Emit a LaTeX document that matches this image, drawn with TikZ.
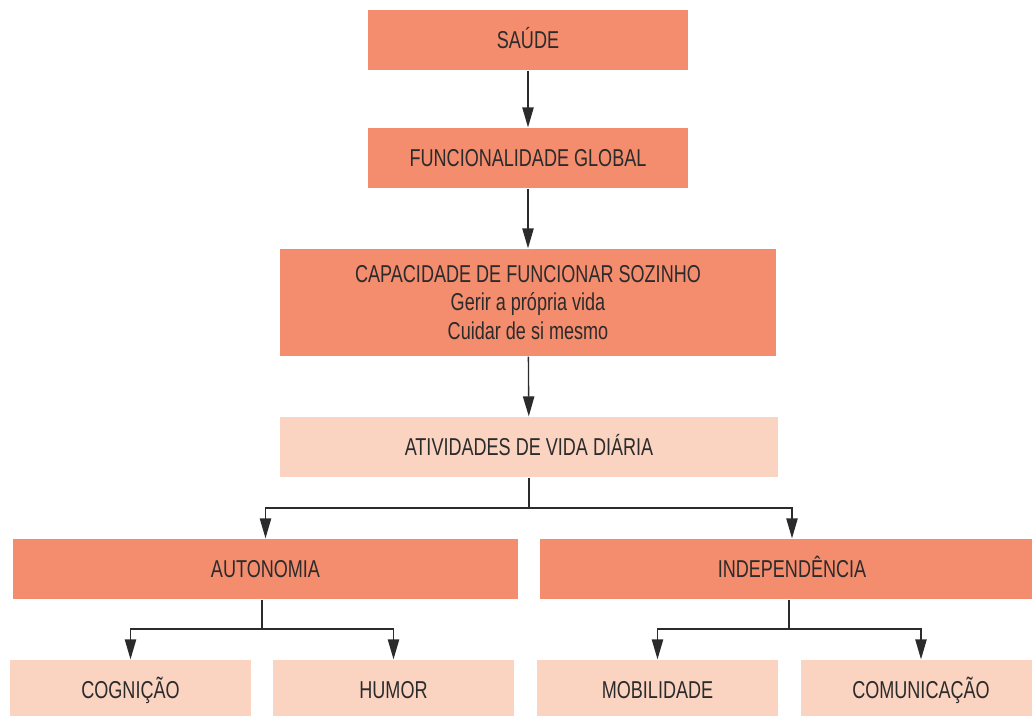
\documentclass[tikz,border=0pt]{standalone}
\usepackage{fontspec}
\setmainfont{Liberation Sans}[FakeStretch=0.74]
\usetikzlibrary{arrows.meta,positioning}
\definecolor{salmon}{HTML}{F48C6E}
\definecolor{peach}{HTML}{FBD3C1}
\definecolor{ink}{HTML}{2B2B2B}

\begin{document}
\begin{tikzpicture}[x=0.75pt, y=-0.75pt, line width=1pt, draw=ink, >={Triangle[length=15pt,width=8.5pt]},
box/.style={rectangle,minimum height=45pt,inner sep=0pt,text=ink,align=center},
dark node/.style={box,fill=salmon,text height=13.1pt,text depth=0pt},
light node/.style={box,fill=peach,text height=13.1pt,text depth=0pt}]%
\useasboundingbox (0,0) rectangle (1032,715);
\clip (0,0) rectangle (1032,715);
\begin{scope}[every node/.style={font=\fontsize{18.3}{21.5}\selectfont}]
\node[dark node, minimum width=240pt] (saude) at (528,40) {SAÚDE};
\node[dark node, minimum width=240pt] (func) at (528,158) {FUNCIONALIDADE GLOBAL};
\node[box, fill=salmon, minimum width=372pt, minimum height=80.25pt] (cap) at (528,302.5) {CAPACIDADE DE FUNCIONAR SOZINHO\\Gerir a própria vida\\Cuidar de si mesmo};
\node[light node, minimum width=373.5pt] (ativ) at (529,447) {ATIVIDADES DE VIDA DIÁRIA};
\node[dark node, minimum width=378.75pt] (auton) at (265.5,569) {AUTONOMIA};
\node[dark node, minimum width=378pt] (indep) at (792,569) {INDEPENDÊNCIA};
\node[light node, minimum width=180.75pt] (cogn) at (130.5,690) {COGNIÇÃO};
\node[light node, minimum width=180.75pt] (humor) at (393.5,690) {HUMOR};
\node[light node, minimum width=180.75pt] (mob) at (657.5,690) {MOBILIDADE};
\node[light node, minimum width=180pt] (comun) at (921,690) {COMUNICAÇÃO};
\end{scope}
\coordinate (j1) at (529,508);
\coordinate (j2) at (262,629);
\coordinate (j3) at (789,629);
\begin{scope}
\draw[->] (saude) -- (func);
\draw[->] (func) -- (cap);
\draw[->] (cap) -- (ativ);
\draw (ativ.south) -- (j1);
\draw[->] (j1) -| (auton.north);
\draw[->] (j1) -| (indep.north);
\draw (auton.south -| j2) -- (j2);
\draw[->] (j2) -| (cogn.north);
\draw[->] (j2) -| (humor.north);
\draw (indep.south -| j3) -- (j3);
\draw[->] (j3) -| (mob.north);
\draw[->] (j3) -| (comun.north);
\end{scope}
\end{tikzpicture}
\end{document}
